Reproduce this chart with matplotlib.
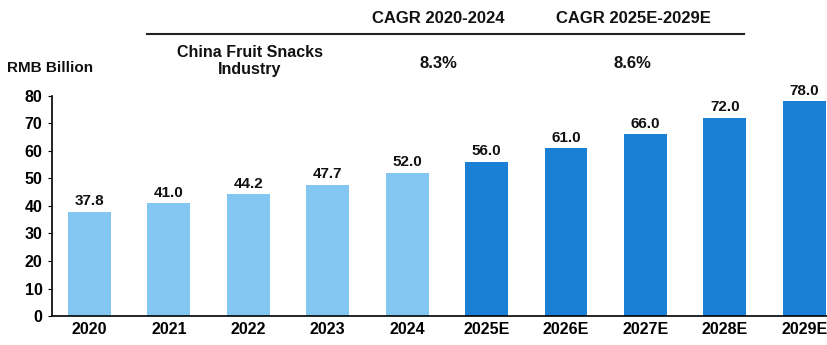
import matplotlib

matplotlib.use("Agg")
import matplotlib.pyplot as plt

plt.rcParams["font.family"] = ["Liberation Sans", "DejaVu Sans"]
plt.rcParams["font.weight"] = "bold"

years = ["2020", "2021", "2022", "2023", "2024",
         "2025E", "2026E", "2027E", "2028E", "2029E"]
values = [37.8, 41.0, 44.2, 47.7, 52.0, 56.0, 61.0, 66.0, 72.0, 78.0]
historical = [True] * 5 + [False] * 5

LIGHT = "#84c6f2"
DARK = "#1a80d6"

fig = plt.figure(figsize=(8.28, 3.45), dpi=100)
ax = fig.add_axes([0.063, 0.084, 0.937, 0.638])

x = list(range(len(years)))
colors = [LIGHT if h else DARK for h in historical]
bars = ax.bar(x, values, width=0.54, color=colors, zorder=2)
for b, v in zip(bars, values):
    ax.text(b.get_x() + b.get_width() / 2, v + 1.3, f"{v:.1f}",
            ha="center", va="bottom", fontsize=11, color="#111111")

ax.set_xlim(-0.47, 9.3)
ax.set_ylim(0, 80)
ax.set_yticks(range(0, 81, 10))
ax.set_xticks(x)
ax.set_xticklabels(years, fontsize=11.5)
for lbl in ax.get_yticklabels():
    lbl.set_fontsize(11.5)
ax.tick_params(axis="x", length=0, pad=4)
ax.tick_params(axis="y", length=3, pad=4)
for side in ("top", "right"):
    ax.spines[side].set_visible(False)
ax.spines["left"].set_linewidth(1.2)
ax.spines["bottom"].set_linewidth(1.2)

# header annotations (figure coords)
hdr = dict(ha="center", va="center", fontsize=12, color="#111111")
fig.text(0.06, 0.803, "RMB Billion", **dict(hdr, fontsize=11))
fig.text(0.302, 0.823, "China Fruit Snacks\nIndustry", linespacing=1.15,
         **dict(hdr, fontsize=11.5))
fig.text(0.529, 0.947, "CAGR 2020-2024", **hdr)
fig.text(0.765, 0.947, "CAGR 2025E-2029E", **hdr)
fig.text(0.529, 0.817, "8.3%", **hdr)
fig.text(0.764, 0.817, "8.6%", **hdr)
fig.add_artist(plt.Line2D([0.178, 0.899], [0.902, 0.902], color="#222222",
                          linewidth=1.5))

fig.savefig("out.png", dpi=100)
